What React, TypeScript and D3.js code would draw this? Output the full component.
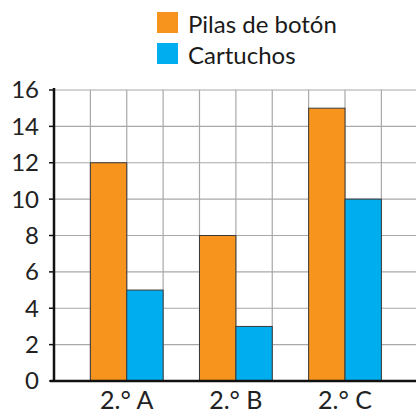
import React from 'react';
import * as d3 from 'd3';

const categories = ['2.° A', '2.° B', '2.° C'];
const series = ['Pilas de botón', 'Cartuchos'];
const pilas = [12, 8, 15];
const cartuchos = [5, 3, 10];
const yTicks = [0, 2, 4, 6, 8, 10, 12, 14, 16];
const colors = ['#F7941D', '#00AEEF'];

const W = 416;
const H = 414;
const left = 54;
const top = 90;
const bottom = 381;

const App: React.FC = () => {
  const y = d3.scaleLinear().domain([0, 16]).range([bottom, top]);
  const cell = y(0) - y(2);

  const x0 = d3.scaleBand()
    .domain(categories)
    .range([left + cell, left + 9 * cell])
    .paddingInner(1 / 3)
    .paddingOuter(0);

  const x1 = d3.scaleBand()
    .domain(series)
    .range([0, x0.bandwidth()]);

  const values = [pilas, cartuchos];
  const vLines = d3.range(1, 11).map(i => left + i * cell).filter(v => v < W + 2);
  const font = 'Lato, "Open Sans", sans-serif';

  return (
    <svg width={W} height={H} style={{ position: 'absolute', left: 0, top: 0, background: '#fff' }}>
      {/* grid */}
      {yTicks.slice(1).map(t => (
        <line key={'h' + t} x1={left} x2={W} y1={y(t)} y2={y(t)} stroke="#a8a8a8" strokeWidth={1.2} />
      ))}
      {vLines.map((v, i) => (
        <line key={'v' + i} x1={v} x2={v} y1={top} y2={bottom} stroke="#a8a8a8" strokeWidth={1.2} />
      ))}

      {/* bars */}
      {categories.map((c, ci) => (
        <g key={c} transform={`translate(${x0(c)},0)`}>
          {series.map((s, si) => (
            <rect
              key={s}
              x={x1(s)}
              y={y(values[si][ci])}
              width={x1.bandwidth()}
              height={y(0) - y(values[si][ci])}
              fill={colors[si]}
              stroke="#3a3a3a"
              strokeWidth={1}
            />
          ))}
        </g>
      ))}

      {/* axes */}
      <line x1={left} x2={left} y1={top - 2} y2={bottom + 1} stroke="#111" strokeWidth={2.5} />
      <line x1={left - 4} x2={W} y1={bottom} y2={bottom} stroke="#111" strokeWidth={2.5} />
      {yTicks.map(t => (
        <g key={'t' + t}>
          <line x1={left - 5} x2={left} y1={y(t)} y2={y(t)} stroke="#111" strokeWidth={1.5} />
          <text x={39} y={y(t)} dy="0.35em" textAnchor="end" fontFamily={font} fontSize={24} fill="#222">{t}</text>
        </g>
      ))}
      {categories.map(c => (
        <text key={'l' + c} x={(x0(c) ?? 0) + x1.bandwidth()} y={409} textAnchor="middle" fontFamily={font} fontSize={25} fill="#222">{c}</text>
      ))}

      {/* legend */}
      {series.map((s, i) => (
        <g key={'lg' + s} transform={`translate(157,${12 + i * 31})`}>
          <rect x={0} y={0} width={21} height={21} fill={colors[i]} />
          <text x={31} y={21} fontFamily={font} fontSize={24} fill="#1a1a1a">{s}</text>
        </g>
      ))}
    </svg>
  );
};

export default App;
